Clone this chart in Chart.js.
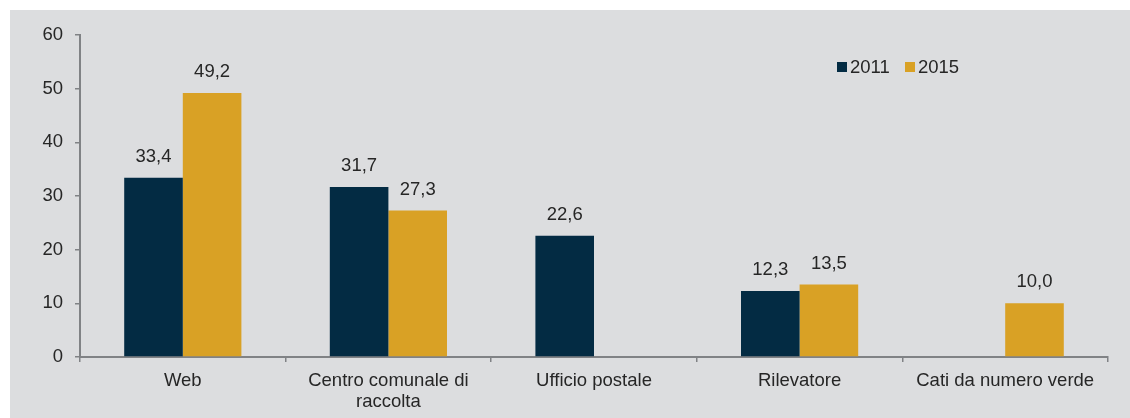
<!DOCTYPE html>
<html>
<head>
<meta charset="utf-8">
<script src="https://cdn.jsdelivr.net/npm/chart.js@4/dist/chart.umd.min.js"></script>
<style>
  html, body { margin: 0; padding: 0; background: #fff; }
  #wrap { width: 1130px; height: 418px; position: relative; }
</style>
</head>
<body>
<div id="wrap"><canvas id="chart"></canvas></div>
<script>
const categories = ['Web', ['Centro comunale di', 'raccolta'], 'Ufficio postale', 'Rilevatore', 'Cati da numero verde'];
const series2011 = [33.4, 31.7, 22.6, 12.3, null];
const series2015 = [49.2, 27.3, null, 13.5, 10.0];
const yTicks = [0, 10, 20, 30, 40, 50, 60];

const NAVY = '#032b43';
const GOLD = '#d9a125';
const TEXT = '#262626';
const AXIS = '#808285';
const FONT = '"Liberation Sans", Arial, sans-serif';

const bgPlugin = {
  id: 'bg',
  beforeDraw(chart) {
    const c = chart.ctx;
    c.save();
    c.fillStyle = '#ffffff';
    c.fillRect(0, 0, chart.width, chart.height);
    c.fillStyle = '#dcdddf';
    c.fillRect(10, 10, chart.width - 10, chart.height - 10);
    c.restore();
  }
};

const labelPlugin = {
  id: 'valueLabels',
  afterDatasetsDraw(chart) {
    const c = chart.ctx;
    c.save();
    c.font = '18.5px ' + FONT;
    c.fillStyle = TEXT;
    c.textAlign = 'center';
    c.textBaseline = 'middle';
    chart.data.datasets.forEach((ds, i) => {
      chart.getDatasetMeta(i).data.forEach((bar, j) => {
        const v = ds.data[j];
        if (v === null) return;
        c.fillText(v.toFixed(1).replace('.', ','), bar.x, bar.y - 21);
      });
    });
    // legend
    let x = 837;
    const y = 67;
    chart.data.datasets.forEach(ds => {
      c.fillStyle = ds.backgroundColor;
      c.fillRect(x, y - 5, 10, 10);
      c.fillStyle = TEXT;
      c.textAlign = 'left';
      c.fillText(ds.label, x + 13, y + 1);
      x += 68;
    });
    c.restore();
  }
};

new Chart(document.getElementById('chart'), {
  type: 'bar',
  data: {
    labels: categories,
    datasets: [
      { label: '2011', data: series2011, backgroundColor: NAVY },
      { label: '2015', data: series2015, backgroundColor: GOLD }
    ]
  },
  options: {
    responsive: true,
    maintainAspectRatio: false,
    animation: false,
    devicePixelRatio: 1,
    layout: { padding: { left: 0, right: 22, top: 35, bottom: 0 } },
    datasets: {
      bar: { categoryPercentage: 0.57, barPercentage: 1.0, grouped: true }
    },
    plugins: {
      legend: { display: false },
      tooltip: { enabled: false }
    },
    scales: {
      x: {
        afterFit(scale) { scale.height = 61; },
        grid: {
          offset: true,
          drawOnChartArea: false,
          drawTicks: true,
          tickLength: 5,
          color: AXIS,
          lineWidth: 1.5
        },
        border: { display: true, color: AXIS, width: 2 },
        ticks: {
          color: TEXT,
          padding: 9,
          maxRotation: 0,
          autoSkip: false,
          font: { family: FONT, size: 18.5, lineHeight: 1.1 }
        }
      },
      y: {
        min: 0,
        max: 60,
        afterFit(scale) { scale.width = 80; },
        afterBuildTicks(scale) { scale.ticks = yTicks.map(v => ({ value: v })); },
        grid: {
          drawOnChartArea: false,
          drawTicks: true,
          tickLength: 5,
          color: AXIS,
          lineWidth: 1.5
        },
        border: { display: true, color: AXIS, width: 2 },
        ticks: {
          color: TEXT,
          padding: 12,
          font: { family: FONT, size: 18.5 }
        }
      }
    }
  },
  plugins: [bgPlugin, labelPlugin]
});
</script>
</body>
</html>
